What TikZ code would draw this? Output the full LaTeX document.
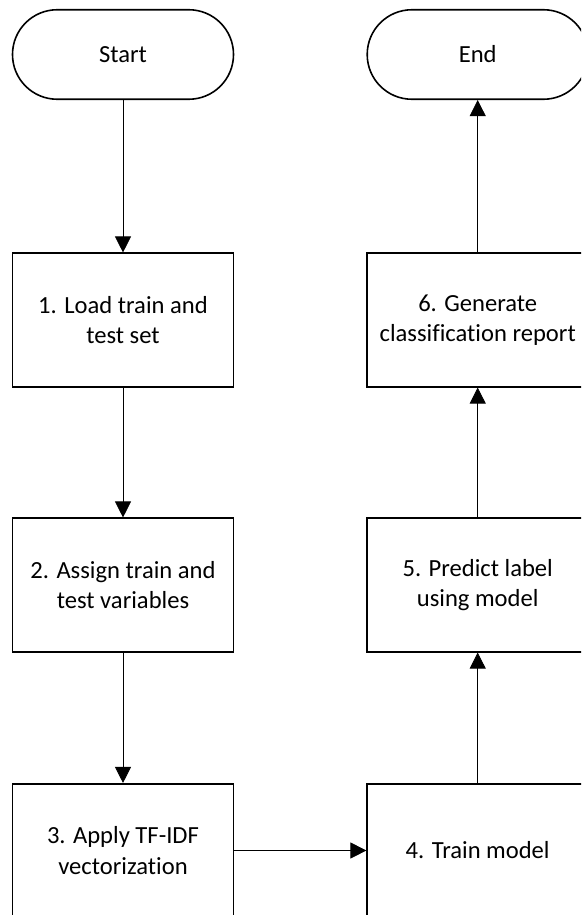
\documentclass[tikz,border=0pt]{standalone}
\usepackage{fontspec}
\setmainfont{Carlito}[Ligatures=NoCommon]
\usetikzlibrary{arrows.meta}
\begin{document}
\begin{tikzpicture}[x=1pt,y=-1pt,
  term/.style={draw, line width=1.6pt, rounded corners=44.7pt, minimum width=221pt, minimum height=89.5pt, inner sep=0pt, font=\fontsize{24.6}{30.5}\selectfont},
  proc/.style={draw, line width=1.6pt, minimum width=221pt, minimum height=133.5pt, inner sep=0pt, align=center, font=\fontsize{24.6}{30.5}\selectfont},
  conn/.style={line width=0.8pt, -{Triangle[width=16pt,length=16pt]}}]
\clip (0,0) rectangle (581,915);
\fill[white] (0,0) rectangle (581,915);
\node[term] (start) at (123,54.5) {Start};
\node[term] (end) at (477.7,54.5) {End};
\node[proc] (b1) at (123,320) {1. Load train and\\test set};
\node[proc] (b2) at (123,585) {2. Assign train and\\test variables};
\node[proc] (b3) at (123,850.5) {3. Apply TF-IDF\\vectorization};
\node[proc] (b4) at (477.7,850.5) {4. Train model};
\node[proc] (b5) at (477.7,585) {5. Predict label\\using model};
\node[proc] (b6) at (477.7,320) {6. Generate\\classification report};
\draw[conn] (start) -- (b1);
\draw[conn] (b1) -- (b2);
\draw[conn] (b2) -- (b3);
\draw[conn] (b3) -- (b4);
\draw[conn] (b4) -- (b5);
\draw[conn] (b5) -- (b6);
\draw[conn] (b6) -- (end);
\end{tikzpicture}
\end{document}
